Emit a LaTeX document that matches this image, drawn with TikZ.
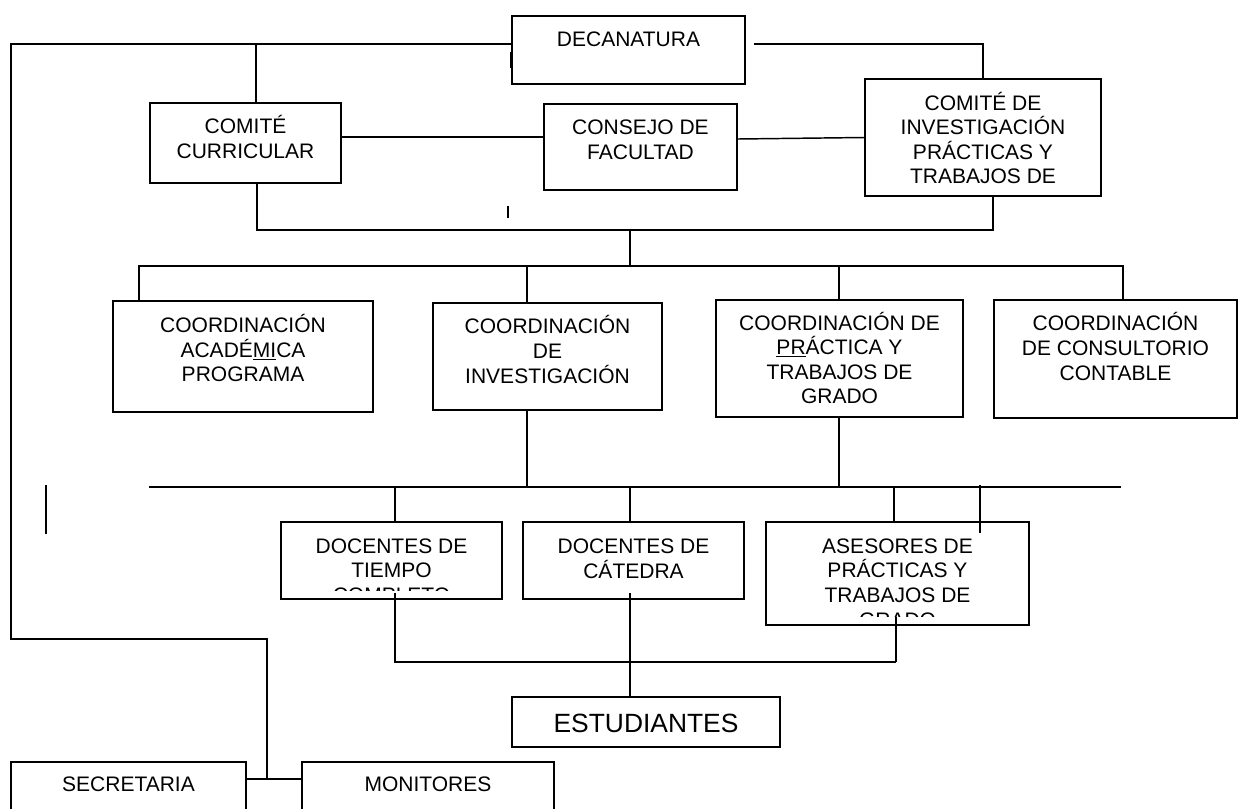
\documentclass[tikz,border=0pt]{standalone}
\usepackage{fontspec}
\setmainfont{Liberation Sans}
\usetikzlibrary{positioning,calc}
\newcommand{\px}{0.75pt}

\begin{document}
\begin{tikzpicture}[
  x=0.75pt, y=-0.75pt,
  box/.style={rectangle, draw, line width=1.4pt, inner sep=0pt},
  txt/.style={align=center, inner sep=0pt, font=\fontsize{15.75}{18.4}\selectfont},
  bigtxt/.style={align=center, inner sep=0pt, font=\fontsize{19.8}{23}\selectfont},
  link/.style={line width=1.1pt}
]
\useasboundingbox (0,0) rectangle (1239,808);
\fill[white] (0,0) rectangle (1239,808);
\clip (0,0) rectangle (1239,808);

% Direccion
\node[box, minimum width=233*\px, minimum height=68*\px] (decanatura) at (628.5,50) {};
\node[txt] (t-decanatura) at (628.5,39) {DECANATURA};

\node[box, minimum width=191*\px, minimum height=80*\px] (curricular) at (245.5,143) {};
\node[txt] (t-curricular) at (245.5,137) {COMITÉ\\CURRICULAR};

\node[box, minimum width=193*\px, minimum height=86*\px] (consejo) at (640.5,147) {};
\node[txt] (t-consejo) at (640.5,140) {CONSEJO DE\\FACULTAD};

\node[box, minimum width=236*\px, minimum height=117*\px] (cominv) at (983,137.5) {};
\node[txt] (t-cominv) at (983,138) {COMITÉ DE\\INVESTIGACIÓN\\PRÁCTICAS Y\\TRABAJOS DE};

% Coordinaciones
\node[box, minimum width=260*\px, minimum height=111*\px] (academica) at (243,356.5) {};
\node[txt] (t-academica) at (243,348) {COORDINACIÓN\\ACADÉ\underline{MI}CA\\PROGRAMA};

\node[box, minimum width=229*\px, minimum height=107*\px] (coordinv) at (547.5,356.5) {};
\node[txt] (t-coordinv) at (547.5,349.5) {COORDINACIÓN\\DE\\INVESTIGACIÓN};

\node[box, minimum width=247*\px, minimum height=117*\px] (practica) at (839.5,358.5) {};
\node[txt] (t-practica) at (839.5,358) {COORDINACIÓN DE\\\underline{PR}ÁCTICA Y\\TRABAJOS DE\\GRADO};

\node[box, minimum width=243*\px, minimum height=118*\px] (consultorio) at (1115.5,359) {};
\node[txt] (t-consultorio) at (1115.5,346.5) {COORDINACIÓN\\DE CONSULTORIO\\CONTABLE};

% Docentes y asesores
\node[box, minimum width=221*\px, minimum height=77*\px] (tiempo) at (391.5,560.5) {};
\begin{scope}
  \clip (281,522) rectangle (502,590);
  \node[txt] (t-tiempo) at (391.5,570.5) {DOCENTES DE\\TIEMPO\\COMPLETO};
\end{scope}

\node[box, minimum width=221*\px, minimum height=77*\px] (catedra) at (633.5,560.5) {};
\node[txt] (t-catedra) at (633.5,558.5) {DOCENTES DE\\CÁTEDRA};

\node[box, minimum width=263*\px, minimum height=103*\px] (asesores) at (897.5,573.5) {};
\begin{scope}
  \clip (766,522) rectangle (1029,616);
  \node[txt] (t-asesores) at (897.5,583) {ASESORES DE\\PRÁCTICAS Y\\TRABAJOS DE\\GRADO};
\end{scope}

\node[box, minimum width=268*\px, minimum height=50*\px] (estudiantes) at (646,722) {};
\node[bigtxt] (t-estudiantes) at (646,723) {ESTUDIANTES};

\node[box, minimum width=235*\px, minimum height=68*\px] (secretaria) at (128.5,796) {};
\node[txt] (t-secretaria) at (128.5,784) {SECRETARIA};

\node[box, minimum width=252*\px, minimum height=68*\px] (monitores) at (428,796) {};
\node[txt] (t-monitores) at (428,784) {MONITORES};

% Junctions
\coordinate (tl) at (11,44);
\coordinate (bl) at (11,639);
\coordinate (sj) at (267,639);
\coordinate (sm) at (267,779);
\coordinate (cu) at (256,44);
\coordinate (dr) at (754,44);
\coordinate (tr) at (983,44);
\coordinate (b1) at (257,230);
\coordinate (b2) at (993,230);
\coordinate (b3) at (630,230);
\coordinate (bus1) at (630,266);
\coordinate (bl1) at (139,266);
\coordinate (br1) at (1123,266);
\coordinate (j1) at (527,266);
\coordinate (j2) at (839,266);
\coordinate (bl2) at (149,487);
\coordinate (br2) at (1121,487);
\coordinate (d1) at (395,487);
\coordinate (d2) at (630,487);
\coordinate (d3) at (894,487);
\coordinate (t1) at (395,593);
\coordinate (t2) at (630,593);
\coordinate (t3) at (896,617);
\coordinate (k1) at (395,662);
\coordinate (k2) at (896,662);

% Lines
\draw[link] (tl -| decanatura.west) -- (tl) -- (bl) -- (sj) -- (sm);
\draw[link] (secretaria.east |- sm) -- (monitores.west |- sm);
\draw[link] (cu) -- (cu |- curricular.north);
\draw[link] (dr) -- (tr) -- (cominv.north);
\draw[line width=2pt] (511,52) -- (511,68);

\draw[link] ([yshift=6*\px]curricular.east) -- ([yshift=10*\px]consejo.west);
\draw[link] ([yshift=8*\px]consejo.east) -- (cominv.west);
\draw[line width=0.8pt] (508,206) -- (508,218);

\draw[link] (b1 |- curricular.south) -- (b1) -- (b2) -- (b2 |- cominv.south);
\draw[link] (b3) -- (bus1);
\draw[link] (bl1 |- academica.north) -- (bl1) -- (br1) -- (br1 |- consultorio.north);
\draw[link] (j1) -- (j1 |- coordinv.north);
\draw[link] (j2) -- (j2 |- practica.north);

\draw[link] (bl2) -- (br2);
\draw[link] (j1 |- coordinv.south) -- (j1 |- bl2);
\draw[link] (j2 |- practica.south) -- (j2 |- bl2);
\draw[link] (d1) -- (d1 |- tiempo.north);
\draw[link] (d2) -- (d2 |- catedra.north);
\draw[link] (d3) -- (d3 |- asesores.north);
\draw[link] (980,485) -- (980,533);
\draw[link] (46,485) -- (46,534);

\draw[link] (t1) -- (k1) -- (k2);
\draw[link] (t3) -- (k2);
\draw[link] (t2) -- (t2 |- estudiantes.north);

\end{tikzpicture}
\end{document}
